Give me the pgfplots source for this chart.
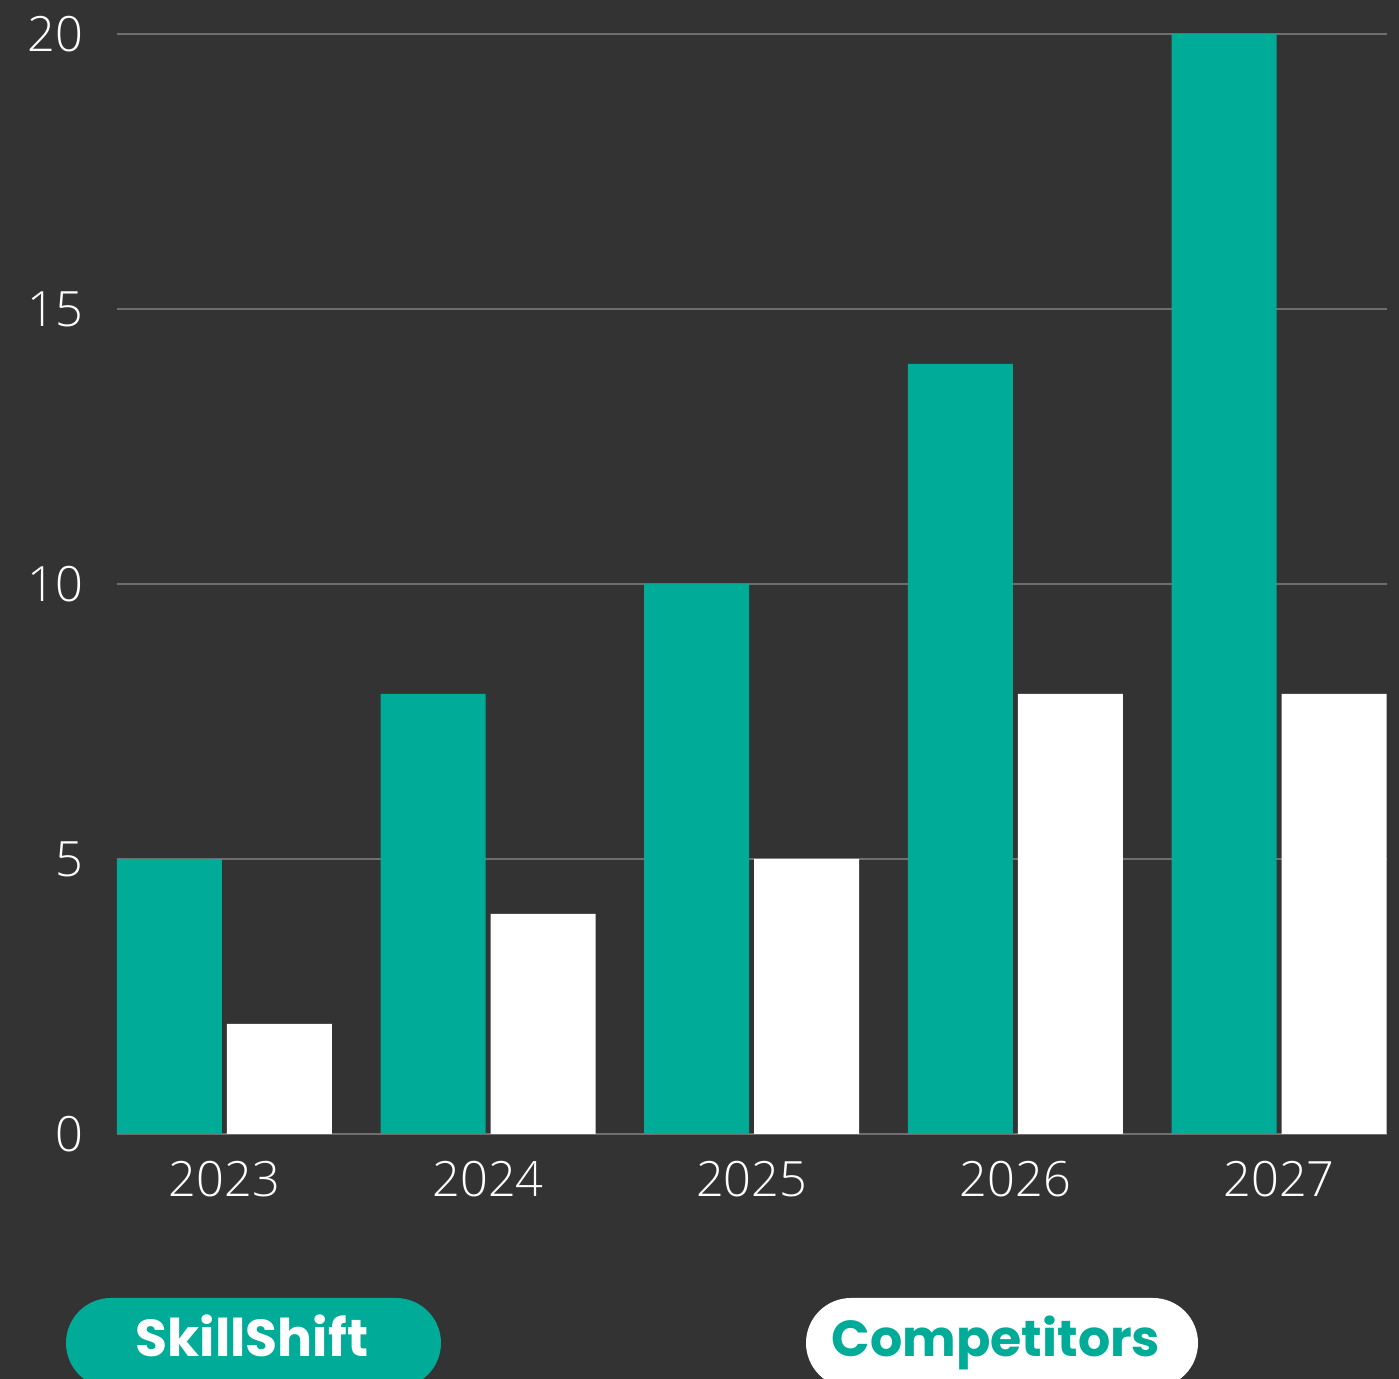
\documentclass[border=0pt]{standalone}
\usepackage{fontspec}
\usepackage{pgfplots}
\pgfplotsset{compat=1.18}
\setmainfont{Open Sans}[UprightFont=* Light]
\newfontfamily\popb{Poppins}[UprightFont=* Bold]
\definecolor{bg}{HTML}{333333}
\definecolor{tealc}{HTML}{00AC97}
\definecolor{gridc}{HTML}{6E6E6E}
\begin{document}
\begin{tikzpicture}[x=0.3pt,y=0.3pt]
\useasboundingbox (0,0) rectangle (1399,1379);
\clip (0,0) rectangle (1399,1379);
\fill[bg] (0,0) rectangle (1399,1379);
\begin{axis}[
  at={(35.1pt,73.5pt)}, anchor=south west,
  scale only axis, width=381pt, height=330pt,
  xmin=-0.407, xmax=4.409, ymin=0, ymax=20,
  axis line style={draw=none}, tick style={draw=none},
  ymajorgrids, grid style={gridc, line width=0.6pt},
  ytick={0,5,10,15,20},
  xtick={0,1,2,3,4}, xticklabels={2023,2024,2025,2026,2027},
  /pgf/number format/assume math mode=true,
  ticklabel style={font=\fontsize{14.6}{17}\selectfont, text=white},
  yticklabel style={anchor=east, xshift=-6.5pt},
  xticklabel style={yshift=-0.3pt},
  ybar=1.5pt, bar width=31.5pt,
]
\addplot[fill=tealc, draw=none] coordinates {(0,5)(1,8)(2,10)(3,14)(4,20)};
\addplot[fill=white, draw=none] coordinates {(0,2)(1,4)(2,5)(3,8)(4,8)};
\end{axis}
\fill[tealc, rounded corners=13.5pt] (66,-9) rectangle (441,81);
\node[text=white, anchor=base, inner sep=0pt, font=\popb\fontsize{15.6}{19}\selectfont] at (252,22) {SkillShift};
\fill[white, rounded corners=13.5pt] (806,-9) rectangle (1198,81);
\node[text=tealc, anchor=base, inner sep=0pt, font=\popb\fontsize{15.2}{19}\selectfont] at (996,22) {Competitors};
\end{tikzpicture}
\end{document}
